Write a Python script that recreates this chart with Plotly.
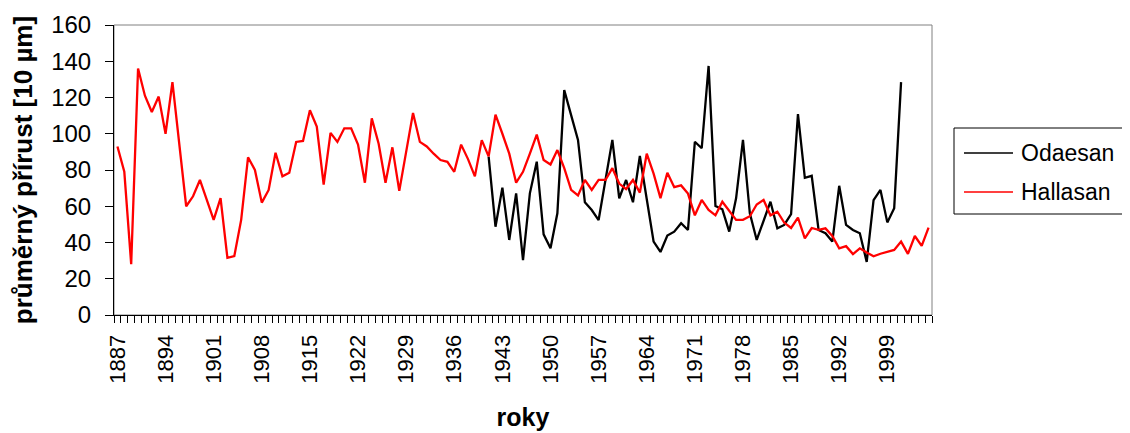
import plotly.graph_objects as go

# ---- data ----
years = list(range(1887, 2006))
hallasan = [93, 79, 28, 136, 121, 112, 120.5, 100, 128.5, 94,
            60, 65.5, 74.5, 63.5, 52.5, 64.5, 31.5, 32.5, 52.5, 87,
            80, 62, 69, 89.5, 76.5, 78.5, 95.5, 96, 113, 104,
            72, 100.5, 95.5, 103, 103, 94, 73, 108.5, 94.5, 73,
            92.5, 68.5, 90, 111.5, 95.5, 93, 89, 85.5, 84.5, 79,
            94, 86, 76.5, 96.5, 87.5, 110.5, 100, 89, 73, 79,
            89, 99.5, 85.5, 83, 91, 81, 69, 66, 74.5, 69,
            74.5, 74.5, 81, 72.5, 69.5, 74.5, 67.5, 89, 78, 64.5,
            78.5, 70.5, 71.5, 67, 55, 63.5, 58, 55, 62.5, 57.5,
            52.5, 52.5, 54.5, 61, 63.5, 55, 57, 51, 48, 53.7,
            42.3, 48, 47, 47.8, 43.6, 36.8, 38, 33.6, 36.8, 34.5,
            32.4, 33.8, 34.8, 35.9, 40.5, 33.7, 43.6, 38.1, 48.2]
odaesan_years = list(range(1941, 2002))
odaesan = [87.4, 48.7, 70.3, 41.4, 67.1, 30.3, 67.1, 84.6, 44.5, 36.8,
           56.1, 124.1, 110.3, 96.6, 62.2, 57.9, 52.4, 74.5, 96.6, 64.4,
           74.5, 62.2, 87.7, 64, 40.5, 34.8, 43.8, 46, 50.6, 46.9,
           95.6, 92, 137.4, 60.1, 58.3, 46, 64.4, 96.6, 56.1, 41.4,
           52.4, 62.5, 47.8, 49.7, 55.6, 110.8, 75.7, 76.8, 46.9, 45.1,
           40.5, 71.3, 49.7, 46.9, 45.1, 29.3, 63.4, 69, 51.1, 58.9,
           128.5]
tick_years = [1887, 1894, 1901, 1908, 1915, 1922, 1929, 1936, 1943,
              1950, 1957, 1964, 1971, 1978, 1985, 1992, 1999]
series_names = ["Odaesan", "Hallasan"]
series_colors = ["#000000", "#FF0000"]

FONT = "Arial, 'Liberation Sans', sans-serif"

# the page body has an 8px margin, so the figure is drawn 8px smaller and
# every screen position below is shifted by OFF
OFF = 8
W, H = 1130 - OFF, 433 - OFF
L, R, T, B = 114 - OFF, 932 - OFF, 25 - OFF, 315 - OFF


def px(xp):
    return (xp - OFF - L) / (R - L)


def py(yp):
    return (B - (yp - OFF)) / (B - T)


fig = go.Figure()
fig.add_trace(go.Scatter(x=odaesan_years, y=odaesan, mode="lines",
                         name=series_names[0],
                         line=dict(color=series_colors[0], width=2.3),
                         showlegend=False))
fig.add_trace(go.Scatter(x=years, y=hallasan, mode="lines",
                         name=series_names[1],
                         line=dict(color=series_colors[1], width=2.3),
                         showlegend=False))

fig.update_layout(
    width=W, height=H, autosize=False,
    margin=dict(l=L, r=W - R, t=T, b=H - B, pad=0),
    paper_bgcolor="white", plot_bgcolor="white",
    font=dict(family=FONT, color="black"),
    xaxis=dict(
        range=[years[0] - 0.5, years[-1] + 0.5], automargin=False,
        tickmode="array", tickvals=tick_years,
        ticktext=[str(y) for y in tick_years],
        tickangle=-90, ticks="", showgrid=False, zeroline=False,
        showline=True, linecolor="black", linewidth=1,
        ticklabelstandoff=10,
        tickfont=dict(size=22, family=FONT, color="black"),
        minor=dict(ticks="outside", tick0=years[0] - 0.5, dtick=1,
                   ticklen=7, tickcolor="black", tickwidth=1, showgrid=False),
        title=dict(text="<b>roky</b>", font=dict(size=25, family=FONT),
                   standoff=25),
    ),
    yaxis=dict(
        range=[0, 160], tickmode="linear", tick0=0, dtick=20, automargin=False,
        ticks="outside", ticklen=8, tickcolor="black", tickwidth=1,
        showgrid=False, zeroline=False,
        showline=True, linecolor="black", linewidth=1,
        ticklabelstandoff=9,
        tickfont=dict(size=24, family=FONT, color="black"),
        title=dict(text="<b>průměrný přírust [10 µm]</b>",
                   font=dict(size=26, family=FONT), standoff=12),
    ),
)

# plot-area border (grey top/right edges)
fig.add_shape(type="rect", xref="paper", yref="paper", x0=0, x1=1, y0=0, y1=1,
              line=dict(color="#808080", width=1), layer="below")

# legend box
fig.add_shape(type="rect", xref="paper", yref="paper",
              x0=px(954), x1=px(1127), y0=py(214), y1=py(128),
              line=dict(color="black", width=1), fillcolor="white")
for name, color, yp in zip(series_names, series_colors, [153, 192]):
    fig.add_shape(type="line", xref="paper", yref="paper",
                  x0=px(964), x1=px(1013), y0=py(yp), y1=py(yp),
                  line=dict(color=color, width=1.5))
    fig.add_annotation(x=px(1019), y=py(yp), xref="paper", yref="paper",
                       text=name, showarrow=False, xanchor="left",
                       yanchor="middle", font=dict(size=23, family=FONT,
                                                   color="black"))

fig.write_html("out.html")
